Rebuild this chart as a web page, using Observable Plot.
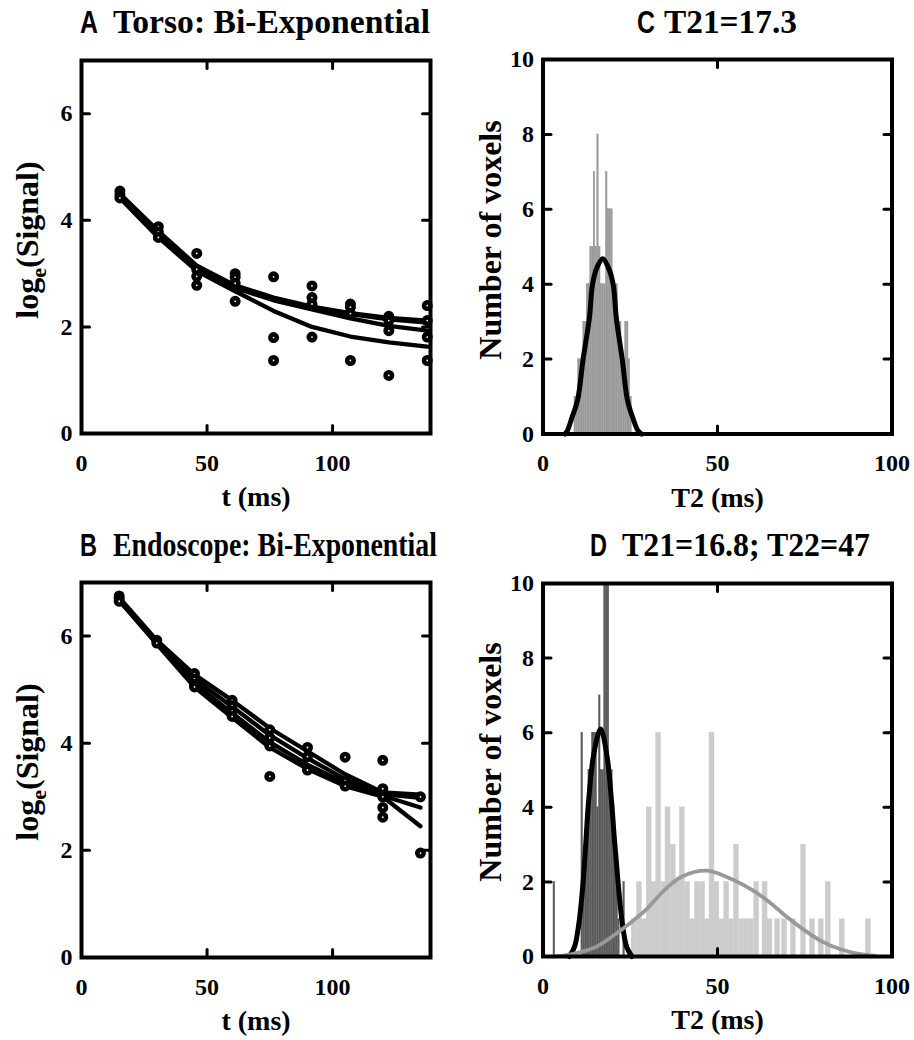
<!DOCTYPE html>
<html><head><meta charset="utf-8">
<script src="https://cdn.jsdelivr.net/npm/d3@7"></script>
<script src="https://cdn.jsdelivr.net/npm/@observablehq/plot@0.6"></script>
<style>
html,body{margin:0;padding:0;background:#fff;}
#root{position:relative;width:914px;height:1040px;overflow:hidden;background:#fff;}
.panel{position:absolute;width:457px;height:520px;}
.panel svg{display:block;}
.panel svg text{font-family:'Liberation Serif','Times New Roman',Times,serif !important;font-weight:bold;}
#overlay{position:absolute;left:0;top:0;pointer-events:none;}
</style></head><body><div id="root"></div>
<script>
// ---------- Data ----------
// Panel A: Torso, echo times (ms) and log signal
const tA = [15.3, 30.6, 45.9, 61.2, 76.5, 91.8, 107.1, 122.4, 137.7];
const pointsA = [
  [4.55, 4.48, 4.42], [3.88, 3.78, 3.68], [3.38, 3.08, 2.95, 2.78], [3.0, 2.93, 2.82, 2.48],
  [2.94, 1.8, 1.37], [2.77, 2.55, 2.43, 1.81], [2.43, 2.37, 2.25, 1.37], [2.2, 2.12, 1.93, 1.09],
  [2.4, 2.12, 1.81, 1.37]
];
const fitA1 = [4.5, 3.8, 3.15, 2.78, 2.55, 2.38, 2.26, 2.17, 2.12];
const fitA2 = [4.47, 3.77, 3.13, 2.76, 2.53, 2.36, 2.24, 2.14, 2.08];
const fitA3 = [4.45, 3.74, 3.1, 2.73, 2.5, 2.33, 2.16, 2.02, 1.93];
const fitA4 = [4.42, 3.68, 3.05, 2.67, 2.3, 2.0, 1.82, 1.71, 1.63];

// Panel B: Endoscope
const tB = [15, 30, 45, 60, 75, 90, 105, 120, 135];
const pointsB = [
  [6.75, 6.7, 6.65], [5.92, 5.87], [5.3, 5.2, 5.1, 5.05], [4.8, 4.7, 4.6, 4.5],
  [4.25, 4.1, 3.95, 3.38], [3.92, 3.75, 3.5], [3.74, 3.3, 3.2], [3.68, 3.15, 3.0, 2.8, 2.62],
  [3.0, 1.95]
];
const fitB1 = [6.72, 5.92, 5.28, 4.8, 4.28, 3.85, 3.42, 3.08, 3.04];
const fitB2 = [6.7, 5.9, 5.2, 4.68, 4.15, 3.72, 3.33, 3.05, 2.98];
const fitB3 = [6.68, 5.88, 5.12, 4.56, 4.02, 3.6, 3.26, 3.02, 2.8];
const fitB4 = [6.66, 5.85, 5.05, 4.48, 3.92, 3.52, 3.2, 3.0, 2.45];

// Panel C: T2 histogram (bin starts, counts), bin width 0.5 ms
const cBinWidth = 0.5;
const cBins = [9.0, 9.5, 10.0, 10.5, 11.0, 11.5, 12.0, 12.5, 13.0, 13.5, 14.0, 14.5, 15.0, 15.5, 16.0, 16.5, 17.0,
  17.5, 18.0, 18.5, 19.0, 19.5, 20.0, 20.5, 21.0, 21.5, 22.0, 22.5, 23.0, 23.5, 24.0, 24.5, 25.0];
const cCounts = [1, 1, 2, 2, 2, 3, 3, 4, 4, 5, 5, 7, 5, 8, 5, 4, 4,
  4, 7, 6, 6, 6, 4, 3, 4, 3, 3, 2, 2, 3, 3, 2, 1];
const cFitT2 = [6.3, 7.0, 8.3, 9.9, 11.5, 13.3, 14.2, 15.5, 17.1, 18.7, 20.1, 21.0, 22.7, 24.2, 25.7, 27.2, 28.2];
const cFitN  = [0.0, 0.09, 0.44, 0.9, 2.0, 3.1, 4.0, 4.45, 4.68, 4.45, 4.0, 3.1, 2.0, 0.9, 0.44, 0.09, 0.0];

// Panel D: two components
const dDarkWidth = 0.5;
const dDarkBins = [3.0, 11.0, 11.5, 12.0, 12.5, 13.0, 13.5, 14.0, 14.5, 15.0, 15.5, 16.0, 16.5, 17.0,
  17.5, 18.0, 18.5, 19.0, 19.5, 20.0, 20.5, 21.0, 21.5, 23.0];
const dDarkCounts = [2, 6, 2, 3, 4, 5, 5, 6, 6, 6, 4, 7, 5, 5, 10, 10, 10, 5, 5, 4, 3, 2, 1, 2];
const dLightWidth = 1.45;
const dLightBins = [25.4, 26.9, 28.3, 29.7, 31.1, 32.4, 33.9, 35.1, 36.6, 37.9, 39.2, 40.7, 42.1, 43.5, 45.0,
  46.3, 47.7, 49.1, 50.5, 51.9, 53.3, 54.7, 56.2, 57.6, 59.0, 60.5, 62.9, 64.3, 66.5, 68.5, 71.0, 73.9,
  76.5, 79.0, 81.0, 85.0, 92.5];
const dLightCounts = [1, 2, 1, 4, 2, 6, 2, 4, 3, 2, 4, 2, 1, 2, 2,
  1, 6, 2, 1, 2, 1, 3, 1, 1, 1, 2, 2, 1, 1, 1, 1, 3,
  1, 1, 2, 1, 1];
const dFit1T2 = [7.5, 9.0, 10.3, 11.5, 12.3, 13.1, 14.5, 16.5, 18.3, 19.6, 20.5, 21.5, 22.7, 24.0, 25.5];
const dFit1N  = [0.0, 0.25, 0.9, 2.0, 3.1, 4.2, 5.4, 6.1, 5.4, 4.2, 3.1, 2.0, 0.9, 0.25, 0.0];
const dFit2T2 = [3, 8, 15, 20, 25, 30, 35, 40, 47, 55, 60, 65, 70, 75, 80, 85, 90, 95];
const dFit2N  = [0.0, 0.06, 0.25, 0.55, 0.9, 1.3, 1.8, 2.15, 2.3, 2.03, 1.78, 1.45, 1.05, 0.7, 0.4, 0.2, 0.08, 0.02];

// Ticks and labels
const xTicksSignal = [0, 50, 100];
const yTicksSignal = [0, 2, 4, 6];
const xTicksHist = [0, 50, 100];
const yTicksHist = [0, 2, 4, 6, 8, 10];

// ---------- Helpers ----------
const serif = "'Liberation Serif', 'Times New Roman', Times, serif";
const baseStyle = "font-family: 'Liberation Serif', 'Times New Roman', Times, serif; font-weight: bold; font-size: 23px; background: transparent; overflow: visible;";
const tickShape = {draw(ctx, l) { ctx.moveTo(0, 0); ctx.lineTo(0, -l); }};
function innerTicks(xt, yt) {
  const o = {length: 8, anchor: "start", shape: tickShape, stroke: "black", strokeWidth: 3};
  return [
    Plot.vector(xt, {...o, x: d => d, frameAnchor: "bottom", rotate: 0}),
    Plot.vector(xt, {...o, x: d => d, frameAnchor: "top", rotate: 180}),
    Plot.vector(yt, {...o, y: d => d, frameAnchor: "left", rotate: 90}),
    Plot.vector(yt, {...o, y: d => d, frameAnchor: "right", rotate: -90})
  ];
}
function pointRows(times, pts) { return times.flatMap((t, i) => pts[i].map(v => ({t, v}))); }
function fitRows(times, fits) { return fits.flatMap((f, k) => f.map((v, i) => ({t: times[i], v, k}))); }
function binRows(starts, counts, w) { return starts.map((s, i) => ({x0: s, x1: s + w, n: counts[i]})); }
function curveRows(xs, ys) { return xs.map((x, i) => ({x, y: ys[i]})); }
const txt = {fontFamily: serif, fontWeight: "bold"};

function signalPlot(times, pts, fits, mt, mb) {
  return Plot.plot({
    width: 457, height: 520, marginLeft: 81, marginRight: 27, marginTop: mt, marginBottom: mb,
    x: {domain: [0, 139]}, y: {domain: [0, 7]},
    style: baseStyle,
    marks: [
      Plot.line(fitRows(times, fits), {x: "t", y: "v", z: "k", stroke: "black", strokeWidth: 4.3}),
      Plot.dot(pointRows(times, pts), {x: "t", y: "v", r: 3.2, stroke: "black", strokeWidth: 4.6, fill: "white"}),
      Plot.frame({stroke: "black", strokeWidth: 4}),
      ...innerTicks(xTicksSignal, yTicksSignal),
      Plot.axisX({ticks: xTicksSignal, tickFormat: d => String(d), tickSize: 0, tickPadding: 20, label: null, fontSize: 24, ...txt}),
      Plot.axisY({ticks: yTicksSignal, tickFormat: d => String(d), tickSize: 0, tickPadding: 9, label: null, fontSize: 24, ...txt}),
      Plot.text(["t (ms)"], {frameAnchor: "bottom", dy: 64, fontSize: 28, lineAnchor: "middle", ...txt})
    ]
  });
}
function histPlot(layers, mt, mb) {
  return Plot.plot({
    width: 457, height: 520, marginLeft: 85.5, marginRight: 22.5, marginTop: mt, marginBottom: mb,
    x: {domain: [0, 100]}, y: {domain: [0, 10]},
    style: baseStyle,
    marks: [
      ...layers,
      Plot.frame({stroke: "black", strokeWidth: 4}),
      ...innerTicks(xTicksHist, yTicksHist),
      Plot.axisX({ticks: xTicksHist, tickFormat: d => String(d), tickSize: 0, tickPadding: 20, label: null, fontSize: 24, ...txt}),
      Plot.axisY({ticks: yTicksHist, tickFormat: d => String(d), tickSize: 0, tickPadding: 9, label: null, fontSize: 24, ...txt}),
      Plot.text(["T2 (ms)"], {frameAnchor: "bottom", dy: 64, fontSize: 28, lineAnchor: "middle", ...txt})
    ]
  });
}
const bars = (rows, fill) => Plot.rect(rows, {x1: "x0", x2: "x1", y1: () => 0, y2: "n", fill, stroke: fill, strokeWidth: 0.3});

const root = document.getElementById("root");
function place(el, left, top) {
  const d = document.createElement("div");
  d.className = "panel"; d.style.left = left + "px"; d.style.top = top + "px";
  d.appendChild(el); root.appendChild(d);
}

place(signalPlot(tA, pointsA, [fitA1, fitA2, fitA3, fitA4], 60, 87), 0, 0);
place(signalPlot(tB, pointsB, [fitB1, fitB2, fitB3, fitB4], 62, 83), 0, 520);
place(histPlot([
  bars(binRows(cBins, cCounts, cBinWidth), "#9a9a9a"),
  Plot.line(curveRows(cFitT2, cFitN), {x: "x", y: "y", curve: "catmull-rom", stroke: "black", strokeWidth: 5})
], 59, 86.5), 457, 0);
place(histPlot([
  bars(binRows(dLightBins, dLightCounts, dLightWidth), "#cccccc"),
  bars(binRows(dDarkBins, dDarkCounts, dDarkWidth), "#5a5a5a"),
  Plot.line(curveRows(dFit1T2, dFit1N), {x: "x", y: "y", curve: "catmull-rom", stroke: "black", strokeWidth: 5}),
  Plot.line(curveRows(dFit2T2, dFit2N), {x: "x", y: "y", curve: "catmull-rom", stroke: "#999999", strokeWidth: 3.8})
], 63, 84), 457, 520);

// ---------- Titles and y labels ----------
const ov = `
<svg id="overlay" width="914" height="1040" xmlns="http://www.w3.org/2000/svg" font-family="Liberation Serif, Times New Roman, Times, serif" font-weight="bold">
  <g font-family="Liberation Sans, Arial, sans-serif" font-size="31">
    <text x="80" y="33" textLength="18" lengthAdjust="spacingAndGlyphs">A</text>
    <text x="637" y="33" textLength="18" lengthAdjust="spacingAndGlyphs">C</text>
    <text x="80" y="556" textLength="17" lengthAdjust="spacingAndGlyphs">B</text>
    <text x="590" y="556" textLength="17" lengthAdjust="spacingAndGlyphs">D</text>
  </g>
  <g font-size="33">
    <text x="113" y="33" textLength="317" lengthAdjust="spacingAndGlyphs">Torso: Bi-Exponential</text>
    <text x="664" y="33" textLength="133" lengthAdjust="spacingAndGlyphs">T21=17.3</text>
    <text x="113" y="556" textLength="324" lengthAdjust="spacingAndGlyphs">Endoscope: Bi-Exponential</text>
    <text x="622" y="556" textLength="248" lengthAdjust="spacingAndGlyphs">T21=16.8; T22=47</text>
  </g>
  <g font-size="32" text-anchor="middle">
    <text transform="translate(38,240) rotate(-90)">log<tspan font-size="22" dy="8">e</tspan><tspan dy="-8">(Signal)</tspan></text>
    <text transform="translate(38,762) rotate(-90)">log<tspan font-size="22" dy="8">e</tspan><tspan dy="-8">(Signal)</tspan></text>
    <text transform="translate(501,240) rotate(-90)">Number of voxels</text>
    <text transform="translate(501,762) rotate(-90)">Number of voxels</text>
  </g>
</svg>`;
root.insertAdjacentHTML("beforeend", ov);
</script></body></html>
